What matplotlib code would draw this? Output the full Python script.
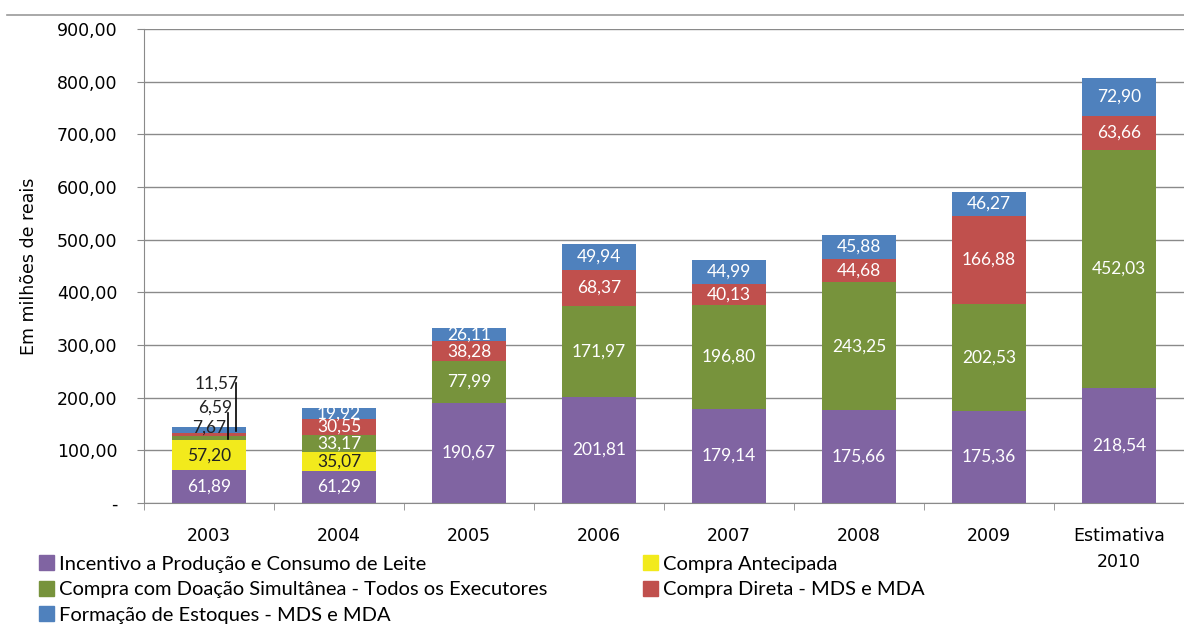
import numpy as np
import matplotlib.pyplot as plt
from matplotlib.lines import Line2D
from matplotlib.patches import Patch

# PAA - recursos aplicados por modalidade (R$ milhões)
anos = ["2003", "2004", "2005", "2006", "2007", "2008", "2009", "Estimativa\n2010"]
leite = [61.89, 61.29, 190.67, 201.81, 179.14, 175.66, 175.36, 218.54]
antecipada = [57.20, 35.07, 0, 0, 0, 0, 0, 0]
doacao = [7.67, 33.17, 77.99, 171.97, 196.80, 243.25, 202.53, 452.03]
direta = [6.59, 30.55, 38.28, 68.37, 40.13, 44.68, 166.88, 63.66]
estoques = [11.57, 19.92, 26.11, 49.94, 44.99, 45.88, 46.27, 72.90]

nomes = ["Incentivo a Produção e Consumo de Leite", "Compra Antecipada",
         "Compra com Doação Simultânea - Todos os Executores",
         "Compra Direta - MDS e MDA", "Formação de Estoques - MDS e MDA"]
cores = ["#8064A2", "#F2EA1C", "#77933C", "#C0504D", "#4F81BD"]
cor_texto = ["white", "#222222", "white", "white", "white"]

series = [leite, antecipada, doacao, direta, estoques]


def fmt(v):
    return f"{v:.2f}".replace(".", ",")


fig = plt.figure(figsize=(11.84, 6.24), dpi=100)
ax = fig.add_axes([0.1216, 0.194, 0.8784, 0.7595])
fig.add_artist(Line2D([0.006, 1.0], [0.976, 0.976], color="#9a9a9a", lw=1.2))

lbl = dict(fontsize=12.5, family="Lato", ha="center", va="center", zorder=4)

x = np.arange(len(anos))
base = np.zeros(len(anos))
for k, (vals, cor) in enumerate(zip(series, cores)):
    vals = np.array(vals)
    ax.bar(x, vals, width=0.57, bottom=base, color=cor, zorder=3)
    for i, v in enumerate(vals):
        if v == 0:
            continue
        if i == 0 and k >= 2:
            continue
        ax.text(x[i], base[i] + v / 2, fmt(v), color=cor_texto[k], **lbl)
    base += vals

# rótulos externos das fatias pequenas de 2003
topo = leite[0] + antecipada[0]
ax.text(x[0], topo + 23, fmt(doacao[0]), color="#222222", **lbl)
ax.text(x[0] + 0.05, topo + 61, fmt(direta[0]), color="#222222", **lbl)
ax.plot([x[0] + 0.146, x[0] + 0.146], [topo + 2, topo + 52], color="black", lw=1.2, zorder=5)
ax.text(x[0] + 0.06, topo + 107, fmt(estoques[0]), color="#222222", **lbl)
ax.plot([x[0] + 0.208, x[0] + 0.208], [topo + 17, topo + 109], color="black", lw=1.2, zorder=5)

ax.set_xlim(-0.5, 7.5)
ax.set_ylim(0, 900)
yt = np.arange(0, 901, 100)
ax.set_yticks(yt)
ax.set_yticklabels(["-"] + [f"{v:.2f}".replace(".", ",") for v in yt[1:]],
                   fontsize=12.5)
ax.set_xticks(x)
ax.set_xticklabels(anos, fontsize=12.5, linespacing=1.6)
ax.set_xticks(np.arange(-0.5, 7.6, 1), minor=True)
ax.tick_params(axis="x", which="major", length=0, pad=17)
ax.tick_params(axis="x", which="minor", length=5, color="#8a8a8a")
ax.tick_params(axis="y", length=5, color="#8a8a8a", pad=14)
ax.grid(axis="y", color="#8a8a8a", lw=1, zorder=0)
for s in ["top", "right"]:
    ax.spines[s].set_visible(False)
ax.spines["left"].set_color("#8a8a8a")
ax.spines["bottom"].set_color("#8a8a8a")
ax.set_ylabel("Em milhões de reais", fontsize=12.5, labelpad=14)

handles = [Patch(color=c) for c in cores]
leg = dict(loc="upper left", frameon=False, prop={"family": "Lato", "size": 14.5},
           handlelength=0.75, handleheight=0.75, handletextpad=0.25,
           labelspacing=0.4, borderaxespad=0, borderpad=0)
fig.legend([handles[0], handles[2], handles[4]], [nomes[0], nomes[2], nomes[4]],
           bbox_to_anchor=(0.033, 0.11), **leg)
fig.legend([handles[1], handles[3]], [nomes[1], nomes[3]],
           bbox_to_anchor=(0.543, 0.11), **leg)

fig.savefig("out.png", dpi=100)
